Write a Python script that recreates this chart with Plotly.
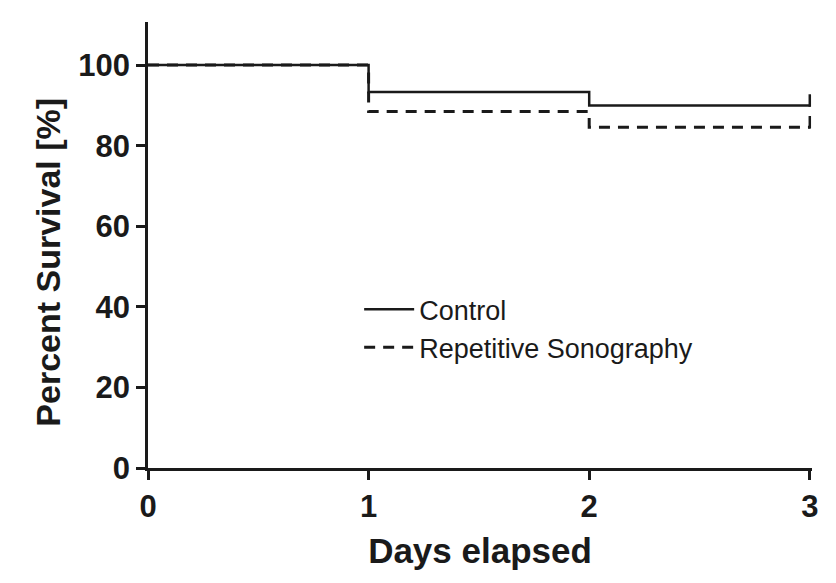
import plotly.graph_objects as go

days = [0, 1, 2, 3]
control = [100, 93.3, 90.0, 90.0]
repetitive = [100, 88.5, 84.6, 84.6]
x_ticks = [0, 1, 2, 3]
y_ticks = [0, 20, 40, 60, 80, 100]

FONT = "Liberation Sans, Arial, sans-serif"

fig = go.Figure()
fig.add_trace(go.Scatter(
    x=days, y=repetitive, mode="lines", line_shape="hv", name="Repetitive Sonography",
    legendrank=2,
    line=dict(color="#1a1a1a", width=3, dash="11px,8px")))
fig.add_trace(go.Scatter(
    x=days, y=control, mode="lines", line_shape="hv", name="Control",
    legendrank=1,
    line=dict(color="#1a1a1a", width=2.5)))
# censoring ticks at end of follow-up
fig.add_trace(go.Scatter(
    x=[days[-1], days[-1]], y=[control[-1] + 1.2, repetitive[-1] + 1.2], mode="markers",
    marker=dict(symbol="line-ns", size=9, line=dict(color="#1a1a1a", width=2.5)),
    showlegend=False, hoverinfo="skip"))

fig.update_layout(
    width=836, height=583,
    margin=dict(l=148, r=24, t=22, b=115),
    paper_bgcolor="white", plot_bgcolor="white",
    font=dict(family=FONT, color="#1a1a1a"),
    showlegend=True,
    legend=dict(x=0.318, y=0.41, xanchor="left", yanchor="top",
                bgcolor="rgba(0,0,0,0)", font=dict(size=27, family=FONT),
                tracegroupgap=0, itemwidth=50, traceorder="normal"),
    annotations=[dict(
        text="Percent Survival [%]", xref="paper", yref="paper",
        x=-0.151, y=0.462, xanchor="center", yanchor="middle", textangle=-90,
        showarrow=False, font=dict(size=34, family=FONT, weight="bold", color="#1a1a1a"))],
)
fig.update_xaxes(
    range=[0, 3.01], tickvals=x_ticks, ticktext=[str(t) for t in x_ticks],
    showgrid=False, zeroline=False, showline=True, linecolor="#1a1a1a", linewidth=2.5,
    ticks="outside", ticklen=9, tickwidth=2.5, tickcolor="#1a1a1a",
    tickfont=dict(size=31, family=FONT, weight="bold"),
    title=dict(text="Days elapsed", font=dict(size=35, family=FONT, weight="bold"), standoff=16),
)
fig.update_yaxes(
    range=[0, 110.7], tickvals=y_ticks,
    showgrid=False, zeroline=False, showline=True, linecolor="#1a1a1a", linewidth=2.5,
    ticks="outside", ticklen=9, tickwidth=2.5, tickcolor="#1a1a1a",
    tickfont=dict(size=31, family=FONT, weight="bold"),
)

fig.write_html("out.html")
